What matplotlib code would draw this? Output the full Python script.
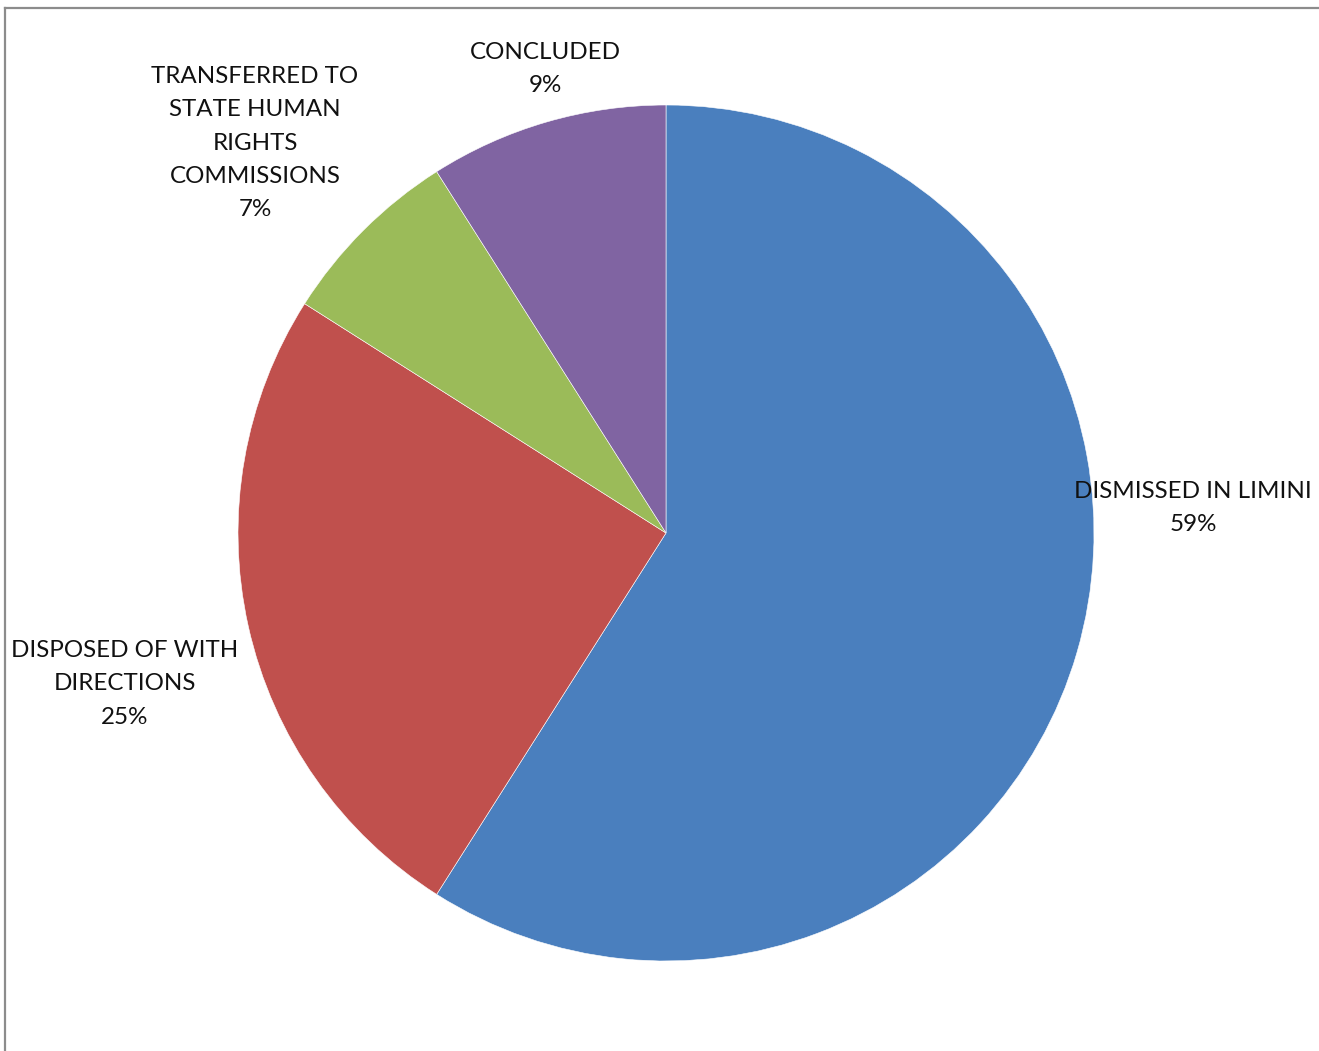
import matplotlib
matplotlib.use("Agg")
import matplotlib.pyplot as plt
from matplotlib.lines import Line2D

# Case disposal breakdown
categories = ["DISMISSED IN LIMINI", "DISPOSED OF WITH\nDIRECTIONS",
              "TRANSFERRED TO\nSTATE HUMAN\nRIGHTS\nCOMMISSIONS", "CONCLUDED"]
values = [59, 25, 7, 9]
colors = ["#4A7FBE", "#C0504D", "#9BBB59", "#8064A2"]

W, H = 1319, 1051
fig = plt.figure(figsize=(W / 100, H / 100), dpi=100)
fig.patch.set_facecolor("white")

# pie placement in pixels
cx, cy, r = 666, 533, 428
ax = fig.add_axes([(cx - r) / W, (H - cy - r) / H, 2 * r / W, 2 * r / H])
ax.pie(values, colors=colors, startangle=90, counterclock=False,
       radius=1.0, wedgeprops=dict(edgecolor="white", linewidth=0.4))
ax.set_xlim(-1, 1)
ax.set_ylim(-1, 1)
ax.set_aspect("equal")
ax.axis("off")

# data labels (category + percentage), positioned around the pie
label_pos = [(1193, 508), (125, 684), (255, 143), (545, 69)]
for cat, val, (px, py) in zip(categories, values, label_pos):
    fig.text(px / W, 1 - py / H, f"{cat}\n{val}%", ha="center", va="center",
             fontsize=17.4, family="Lato", color="#111111", linespacing=1.73)

# chart area border (top and left edges visible)
border = "#8c8c8c"
fig.add_artist(Line2D([5 / W, 1.0], [1 - 8 / H, 1 - 8 / H], color=border,
                      linewidth=1.6, transform=fig.transFigure))
fig.add_artist(Line2D([5 / W, 5 / W], [1 - 8 / H, 0.0], color=border,
                      linewidth=1.6, transform=fig.transFigure))

fig.savefig("out.png", dpi=100)
